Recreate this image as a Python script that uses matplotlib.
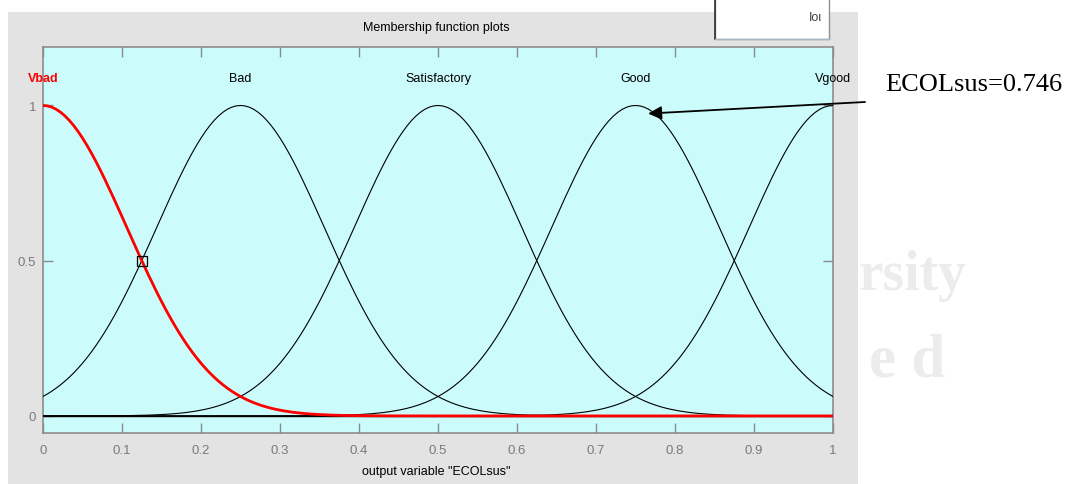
import matplotlib.pyplot as plt
import matplotlib.patches as patches
import numpy as np

# membership functions of the output variable (gaussmf parameters)
mf_names = ['Vbad', 'Bad', 'Satisfactory', 'Good', 'Vgood']
mf_centers = [0.0, 0.25, 0.5, 0.75, 1.0]
mf_sigma = 0.1062
mf_colors = ['red', 'black', 'black', 'black', 'black']

x_ticks = [0, 0.1, 0.2, 0.3, 0.4, 0.5, 0.6, 0.7, 0.8, 0.9, 1]
x_ticklabels = ['0', '0.1', '0.2', '0.3', '0.4', '0.5', '0.6', '0.7', '0.8', '0.9', '1']
y_ticks = [0, 0.5, 1]
y_ticklabels = ['0', '0.5', '1']

selected_point = (0.125, 0.5)
result_label = 'ECOLsus=0.746'
result_point = (0.766, 0.974)

ui_font = ['Liberation Sans', 'DejaVu Sans']
gray_txt = '#7a7a7a'

fig = plt.figure(figsize=(10.8, 4.85), dpi=100)
fig.patch.set_facecolor('white')

# faint watermark on the right
for s, x, y, fs in [('rsity', 0.795, 0.43, 40), ('e d', 0.805, 0.255, 44)]:
    fig.text(x, y, s, fontsize=fs, family='Liberation Serif', weight='bold',
             color='#ececec', ha='left', va='center', zorder=0)

# gray window panel
fig.patches.append(patches.Rectangle((8 / 1080, 0), (858 - 8) / 1080, (485 - 13) / 485,
                                     transform=fig.transFigure, facecolor='#e3e3e3',
                                     edgecolor='none', zorder=0.5))
# white edit box at top right
fig.patches.append(patches.Rectangle((715 / 1080, 1 - 40 / 485), (829 - 715) / 1080, 45 / 485,
                                     transform=fig.transFigure, facecolor='white',
                                     edgecolor='#909090', lw=1, zorder=1))
fig.add_artist(plt.Line2D([715 / 1080, 715 / 1080], [1 - 40 / 485, 1], transform=fig.transFigure,
                          color='#303030', lw=1.2, zorder=1.5))
fig.add_artist(plt.Line2D([715 / 1080, 829 / 1080], [1 - 40 / 485, 1 - 40 / 485],
                          transform=fig.transFigure, color='#a8b4c8', lw=1, zorder=1.5))
fig.text(822 / 1080, 1 - 21 / 485, 'Ιοι', fontsize=9, color='#404040', ha='right', va='baseline',
         family=ui_font, zorder=1.5)

ax = fig.add_axes([43 / 1080, 1 - 434 / 485, 790 / 1080, (434 - 47.5) / 485])
ax.set_zorder(2)
ax.set_facecolor('#cbfbfb')

xs = np.linspace(0, 1, 181)
ax.plot([0, 1], [0, 0], color='black', lw=1.0, zorder=2)
for name, c, col in zip(mf_names, mf_centers, mf_colors):
    ys = np.exp(-(xs - c) ** 2 / (2 * mf_sigma ** 2))
    if col == 'red':
        ax.plot(xs, ys, color='red', lw=2.0, zorder=4)
    else:
        ax.plot(xs, ys, color='black', lw=0.8, zorder=3)
    ax.text(c, 1.09, name, ha='center', va='center', fontsize=9, family=ui_font,
            color='red' if col == 'red' else 'black',
            weight='bold' if col == 'red' else 'normal')

ax.plot(*selected_point, marker='s', ms=7, mfc='none', mec='black', mew=0.9, zorder=5)

ax.set_xlim(0, 1)
ax.set_ylim(-0.055, 1.19)
ax.set_xticks(x_ticks)
ax.set_xticklabels(x_ticklabels)
ax.set_yticks(y_ticks)
ax.set_yticklabels(y_ticklabels)
ax.tick_params(direction='in', top=True, right=True, length=7, width=1, color='#8c8c8c',
               labelcolor=gray_txt, labelsize=9.5, pad=8)
ax.tick_params(axis='y', pad=5)
for lab in ax.get_xticklabels() + ax.get_yticklabels():
    lab.set_family(ui_font)
for sp in ax.spines.values():
    sp.set_color('#8c8c8c')
    sp.set_linewidth(1.2)

fig.text(436 / 1080, 1 - 28 / 485, 'Membership function plots', ha='center', va='center',
         fontsize=9, family=ui_font, color='black', zorder=3)
fig.text(436 / 1080, 1 - 472 / 485, 'output variable "ECOLsus"', ha='center', va='center',
         fontsize=9, family=ui_font, color='black', zorder=3)

# result annotation
ax.annotate('', xy=result_point, xycoords='data',
            xytext=(865 / 1080, 1 - 103 / 485), textcoords='figure fraction',
            arrowprops=dict(arrowstyle='-|>', color='black', lw=1.3, mutation_scale=20,
                            shrinkA=0, shrinkB=0), annotation_clip=False, zorder=6)
fig.text(885 / 1080, 1 - 85 / 485, result_label, ha='left', va='center', fontsize=19,
         family='Liberation Serif', color='black', zorder=3)

fig.savefig('out.png', dpi=100)
